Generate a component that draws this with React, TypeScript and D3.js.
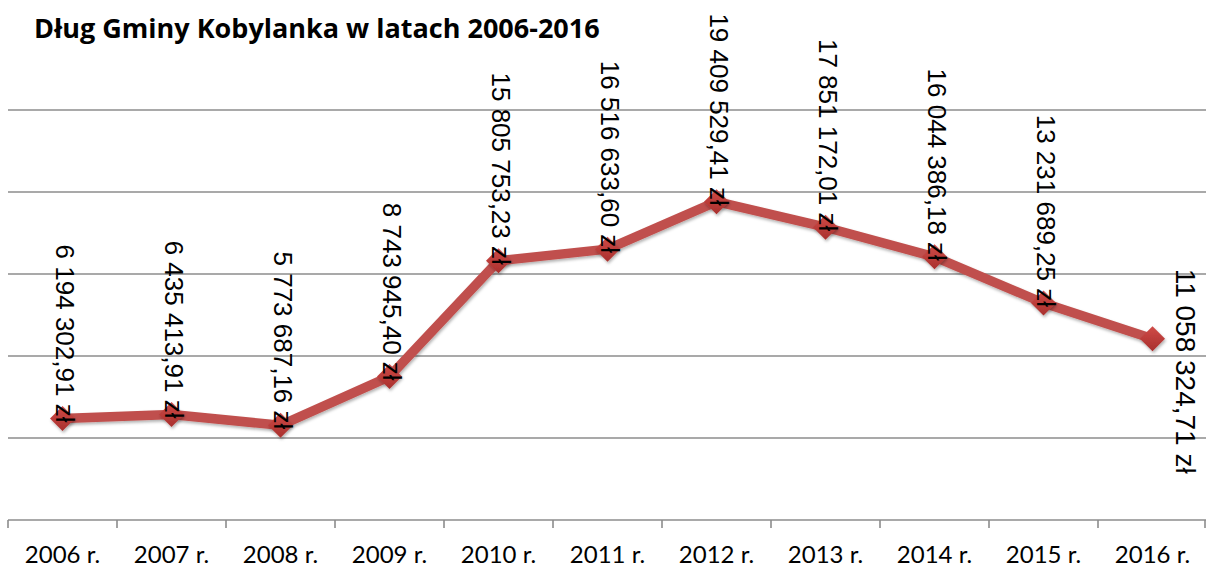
import React from "react";
import * as d3 from "d3";

const categories = ["2006 r.", "2007 r.", "2008 r.", "2009 r.", "2010 r.", "2011 r.", "2012 r.", "2013 r.", "2014 r.", "2015 r.", "2016 r."];
const debtValues = [6194302.91, 6435413.91, 5773687.16, 8743945.4, 15805753.23, 16516633.6, 19409529.41, 17851172.01, 16044386.18, 13231689.25, 11058324.71];
const gridValues = [5000000, 10000000, 15000000, 20000000, 25000000];
const title = "Dług Gminy Kobylanka w latach 2006-2016";

const W = 1206;
const H = 567;

const plLocale = d3.formatLocale({ decimal: ",", thousands: "\u00a0", grouping: [3], currency: ["", " zł"] });
const fmt = (v: number) => plLocale.format(",.2f")(v).replace(/\u00a0/g, " ") + " zł";

export default function App() {
  const x = d3.scaleBand<string>().domain(categories).range([8, 1207]);
  const y = d3.scaleLinear().domain([0, 30000000]).range([520, 28]);
  const cx = (c: string) => (x(c) as number) + x.bandwidth() / 2;
  const pts: [number, number][] = debtValues.map((v, i) => [cx(categories[i]), y(v)]);
  const line = d3.line<[number, number]>().x((d) => d[0]).y((d) => d[1]);
  const r = 12.5;
  const diamond = `M0,${-r}L${r},0L0,${r}L${-r},0Z`;
  const lastIdx = debtValues.length - 1;

  return (
    <svg width={W} height={H} style={{ position: "absolute", left: 0, top: 0, background: "#fff" }}>
      <defs>
        <filter id="sh" x="-50%" y="-50%" width="200%" height="200%">
          <feDropShadow dx="1" dy="2" stdDeviation="1.5" floodColor="#000" floodOpacity="0.3" />
        </filter>
        <linearGradient id="mk" x1="0" y1="0" x2="0" y2="1">
          <stop offset="0" stopColor="#d04b48" />
          <stop offset="1" stopColor="#a8302d" />
        </linearGradient>
      </defs>
      <text x={34} y={38} fontFamily="'Open Sans', Lato, sans-serif" fontWeight="bold" fontSize={27} fill="#000">
        {title}
      </text>
      {gridValues.map((g) => (
        <line key={g} x1={8} x2={1206} y1={y(g)} y2={y(g)} stroke="#8c8c8c" strokeWidth={1.6} />
      ))}
      <line x1={8} x2={1206} y1={y(0)} y2={y(0)} stroke="#8c8c8c" strokeWidth={1.6} />
      {categories.map((c) => (
        <line key={"t" + c} x1={x(c)} x2={x(c)} y1={y(0)} y2={y(0) + 8} stroke="#8c8c8c" strokeWidth={1.6} />
      ))}
      <line x1={1205} x2={1205} y1={y(0)} y2={y(0) + 8} stroke="#8c8c8c" strokeWidth={1.6} />
      {categories.map((c) => (
        <text key={"l" + c} x={cx(c)} y={563} textAnchor="middle" fontFamily="Lato, sans-serif" fontSize={24} fill="#000">
          {c}
        </text>
      ))}
      <path d={line(pts) || ""} fill="none" stroke="#c0504d" strokeWidth={9.5} strokeLinejoin="round" filter="url(#sh)" />
      {pts.map(([px, py], i) => (
        <path key={"m" + i} d={diamond} transform={`translate(${px},${py})`} fill="url(#mk)" filter="url(#sh)" />
      ))}
      {pts.map(([px, py], i) =>
        i === lastIdx ? (
          <text key={"v" + i} transform={`translate(${px + 23},${py - 70}) rotate(90)`} textAnchor="start" fontFamily="'Liberation Sans', Arial, sans-serif" fontSize={28} fill="#000">
            {fmt(debtValues[i])}
          </text>
        ) : (
          <text key={"v" + i} transform={`translate(${px - 7},${py + 4}) rotate(90)`} textAnchor="end" fontFamily="'Liberation Sans', Arial, sans-serif" fontSize={26} fill="#000">
            {fmt(debtValues[i])}
          </text>
        )
      )}
    </svg>
  );
}
